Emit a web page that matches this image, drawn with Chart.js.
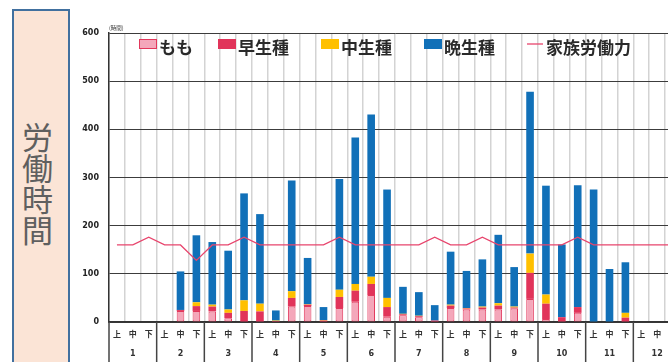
<!DOCTYPE html>
<html>
<head>
<meta charset="utf-8">
<script src="https://cdn.jsdelivr.net/npm/chart.js@4.4.1/dist/chart.umd.min.js"></script>
<style>
  html, body { margin: 0; padding: 0; width: 668px; height: 362px; overflow: hidden; background: #fff; }
  #side {
    position: absolute; left: 12px; top: 9px; width: 54px; height: 380px;
    border: 2.5px solid #41709f; background: #fbe4d6;
  }
  #side span {
    position: absolute; left: 8px; top: 111px;
    writing-mode: vertical-rl;
    font-family: 'Noto Sans CJK JP', sans-serif; font-size: 31px; line-height: 31px;
    color: #5f5f5f;
  }
  #wrap { position: absolute; left: 0; top: 0; width: 681px; height: 372px; }
</style>
</head>
<body>
<div id="side"><span>労働時間</span></div>
<div id="wrap"><canvas id="c"></canvas></div>
<script>
// 旬ごとの作業時間（時間）
const months = ['1','2','3','4','5','6','7','8','9','10','11','12'];
const periods = ['上','中','下'];

const momo  = [0,0,0,  0,23,23,  22,8,0,   0,1,32,    33,1,29,   42,56,11,  14,10,0,  29,26,26,  26,28,48,   6,0,19,    0,0,0,     0,0,0];
const wase  = [0,0,0,  0,2,10,   10,11,23, 22,1,18,   3,2,23,    23,23,20,  2,2,3,    5,2,4,     8,2,54,     32,10,12,  0,0,9,     0,0,0];
const naka  = [0,0,0,  0,0,8,    4,7,22,   16,1,14,   1,1,15,    14,15,19,  1,1,0,    2,1,2,     5,2,40,     19,0,0,    0,0,10,    0,0,0];
const oku   = [0,0,0,  0,80,139, 130,122,222, 186,21,230, 96,27,230, 304,337,225, 56,49,32, 110,77,98, 142,82,336, 226,151,253, 275,110,105, 0,0,0];
const kazoku = [160,160,176, 160,160,128, 160,160,176, 160,160,160, 160,160,176, 160,160,160,
                160,160,176, 160,160,176, 160,160,160, 160,160,176, 160,160,160, 160,160,160];

const yTicks = [0, 100, 200, 300, 400, 500, 600];

// 2段ラベル：上段に旬、中旬の下に月
const labels = [];
months.forEach(m => periods.forEach((p, i) => labels.push(i === 1 ? [p, m] : [p, ''])));

const noZero = arr => arr.map(v => (v === 0 ? null : v));

const C_MOMO = '#f4a7ba', C_MOMO_EDGE = '#e2385c';
const C_WASE = '#e1345a';
const C_NAKA = '#ffc000';
const C_OKU  = '#1170b8';
const C_LINE = '#e8456d';

const TICK_FONT = { family: "'DejaVu Sans', 'Noto Sans CJK JP', sans-serif", size: 8, weight: 'bold' };

// 凡例（プロット内上部に描画）
const legendPlugin = {
  id: 'inLegend',
  afterDraw(chart) {
    const { ctx, chartArea } = chart;
    const offsets = [30, 109, 212, 315, 418];
    const items = [
      { text: 'もも', fill: C_MOMO, edge: C_MOMO_EDGE },
      { text: '早生種', fill: C_WASE, edge: C_WASE },
      { text: '中生種', fill: C_NAKA, edge: C_NAKA },
      { text: '晩生種', fill: C_OKU, edge: C_OKU },
      { text: '家族労働力', line: C_LINE }
    ];
    ctx.save();
    ctx.font = "bold 17px 'Noto Sans CJK JP', sans-serif";
    ctx.textBaseline = 'middle';
    ctx.fillStyle = '#2a2a2a';
    items.forEach((it, i) => {
      const x = chartArea.left + offsets[i];
      const yBox = chartArea.top + 6;
      if (it.line) {
        ctx.strokeStyle = it.line; ctx.lineWidth = 1.3;
        ctx.beginPath(); ctx.moveTo(x, yBox + 5); ctx.lineTo(x + 16, yBox + 5); ctx.stroke();
        ctx.fillStyle = '#2a2a2a';
        ctx.fillText(it.text, x + 19, yBox + 9);
      } else {
        ctx.fillStyle = it.fill; ctx.fillRect(x, yBox, 18, 10);
        ctx.strokeStyle = it.edge; ctx.lineWidth = 1;
        ctx.strokeRect(x + 0.5, yBox + 0.5, 17, 9);
        ctx.fillStyle = '#2a2a2a';
        ctx.fillText(it.text, x + 20, yBox + 9);
      }
    });
    // 単位
    ctx.font = "5.5px 'Noto Sans CJK JP', sans-serif";
    ctx.textBaseline = 'alphabetic';
    ctx.fillStyle = '#333';
    ctx.fillText('(時間)', chartArea.left, chartArea.top - 3);
    ctx.restore();
  }
};

// 月の区切り線（軸ラベル部分）
const monthLinesPlugin = {
  id: 'monthLines',
  afterDraw(chart) {
    const { ctx, chartArea, scales: { x } } = chart;
    const half = (x.getPixelForValue(1) - x.getPixelForValue(0)) / 2;
    ctx.save();
    ctx.strokeStyle = '#444';
    ctx.lineWidth = 1.5;
    for (let m = 0; m <= months.length; m++) {
      const px = m < months.length ? x.getPixelForValue(m * 3) - half
                                   : x.getPixelForValue(m * 3 - 1) + half;
      ctx.beginPath();
      ctx.moveTo(px, chartArea.bottom);
      ctx.lineTo(px, chart.height);
      ctx.stroke();
    }
    ctx.restore();
  }
};

const barCommon = { categoryPercentage: 1, barPercentage: 0.48, stack: 's' };

new Chart(document.getElementById('c'), {
  data: {
    labels,
    datasets: [
      { type: 'line', label: '家族労働力', data: kazoku, borderColor: C_LINE, borderWidth: 1.3,
        pointRadius: 0, tension: 0, fill: false, order: 0 },
      { type: 'bar', label: 'もも', data: noZero(momo), backgroundColor: C_MOMO,
        borderColor: C_MOMO_EDGE, borderWidth: 1, borderSkipped: false, order: 1, ...barCommon },
      { type: 'bar', label: '早生種', data: noZero(wase), backgroundColor: C_WASE, order: 2, ...barCommon },
      { type: 'bar', label: '中生種', data: noZero(naka), backgroundColor: C_NAKA, order: 3, ...barCommon },
      { type: 'bar', label: '晩生種', data: noZero(oku), backgroundColor: C_OKU, order: 4, ...barCommon }
    ]
  },
  options: {
    responsive: true,
    maintainAspectRatio: false,
    animation: false,
    layout: { padding: { top: 33, left: 0, right: 0, bottom: 0 } },
    plugins: { legend: { display: false }, tooltip: { enabled: false } },
    scales: {
      x: {
        stacked: true,
        offset: true,
        grid: { offset: true, color: '#d3d3d3', lineWidth: 1.5, drawTicks: false },
        border: { display: true, color: '#333', width: 1.5 },
        ticks: { autoSkip: false, maxRotation: 0, padding: 3, color: '#333',
                 font: { ...TICK_FONT, lineHeight: 2.375 } },
        afterFit(s) { s.height = 50; }
      },
      y: {
        stacked: true,
        min: 0, max: 600,
        afterBuildTicks(s) { s.ticks = yTicks.map(v => ({ value: v })); },
        ticks: { padding: 10, color: '#222', font: TICK_FONT },
        grid: { color: '#3c3c3c', lineWidth: 1, drawTicks: false },
        border: { display: true, color: '#333', width: 1.5 },
        afterFit(s) { s.width = 109; }
      }
    }
  },
  plugins: [legendPlugin, monthLinesPlugin]
});
</script>
</body>
</html>
